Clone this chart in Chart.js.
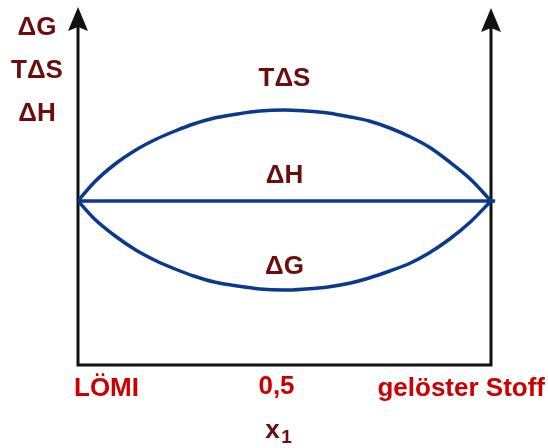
<!DOCTYPE html>
<html>
<head>
<meta charset="utf-8">
<script src="https://cdn.jsdelivr.net/npm/chart.js@4"></script>
<style>
  html, body { margin: 0; padding: 0; background: #fff; }
  #wrap { width: 548px; height: 448px; }
</style>
</head>
<body>
<div id="wrap"><canvas id="gibbsChart"></canvas></div>
<script>
// mole fraction of the solute, 0 = pure solvent (LÖMI), 1 = pure solute
const molFrac = [0, 0.04, 0.09, 0.14, 0.19, 0.235, 0.28, 0.33, 0.385, 0.44, 0.5,
                 0.55, 0.605, 0.66, 0.705, 0.755, 0.805, 0.85, 0.9, 0.95, 1];
// mixing quantities in arbitrary units, enthalpy line as the zero reference
const tdsValues = [0, 19, 37, 51, 62, 70, 77, 83, 87, 90, 91,
                   90, 88, 84, 80, 73, 64, 54, 39, 22, 0];
const dgValues = [0, -18, -35, -49, -60, -68, -75, -81, -85, -88, -89,
                  -88, -86, -82, -77, -70, -62, -52, -38, -21, 0];
const dhX = [0, 1.01];
const dhValues = [0, 0];

const yLabels = ['ΔG', 'TΔS', 'ΔH'];
const xLabels = ['LÖMI', '0,5', 'gelöster Stoff'];

const DARK_RED = '#6b0d0d';
const RED = '#cc0000';
const BLUE = '#0b3a8c';
const FONT = 'bold 26px "Liberation Sans", Arial, sans-serif';

function toPoints(xs, ys) {
    return xs.map((x, i) => ({ x: x, y: ys[i] }));
}

function arrowHead(ctx, x, tipY) {
    ctx.beginPath();
    ctx.moveTo(x, tipY);
    ctx.lineTo(x + 10, tipY + 24);
    ctx.lineTo(x, tipY + 20);
    ctx.lineTo(x - 10, tipY + 24);
    ctx.closePath();
    ctx.fill();
}

// axes, arrows and all the text labels
const sketchPlugin = {
    id: 'sketch',
    beforeDatasetsDraw(chart) {
        const ctx = chart.ctx;
        const xs = chart.scales.x;
        const ys = chart.scales.y;
        const left = xs.getPixelForValue(0);
        const right = xs.getPixelForValue(1);
        const bottom = ys.getPixelForValue(ys.min);
        const top = ys.getPixelForValue(ys.max);

        ctx.save();
        ctx.strokeStyle = '#111';
        ctx.fillStyle = '#111';
        ctx.lineWidth = 3;
        ctx.beginPath();
        ctx.moveTo(left, top + 18);
        ctx.lineTo(left, bottom);
        ctx.lineTo(right, bottom);
        ctx.lineTo(right, top + 18);
        ctx.stroke();
        arrowHead(ctx, left, top);
        arrowHead(ctx, right, top + 1);
        ctx.restore();
    },
    afterDraw(chart) {
        const ctx = chart.ctx;
        const xs = chart.scales.x;
        const ys = chart.scales.y;
        const left = xs.getPixelForValue(0);
        const mid = xs.getPixelForValue(0.5);
        const right = xs.getPixelForValue(1);
        const bottom = ys.getPixelForValue(ys.min);
        const top = ys.getPixelForValue(ys.max);

        ctx.save();
        ctx.font = FONT;
        ctx.textAlign = 'center';
        ctx.textBaseline = 'middle';

        // stacked y-axis title
        ctx.fillStyle = DARK_RED;
        yLabels.forEach((t, i) => {
            ctx.fillText(t, left - 41, top + 21 + i * 43);
        });

        // curve names
        const peak = Math.max(...tdsValues);
        const dip = Math.min(...dgValues);
        ctx.fillText('TΔS', mid, ys.getPixelForValue(peak) - 31);
        ctx.fillText('ΔH', mid, ys.getPixelForValue(0) - 25);
        ctx.fillText('ΔG', mid, ys.getPixelForValue(dip) - 23);

        // x-axis labels
        ctx.fillStyle = RED;
        ctx.textAlign = 'left';
        ctx.fillText(xLabels[0], left - 4, bottom + 24);
        ctx.textAlign = 'center';
        ctx.fillText(xLabels[1], mid - 8, bottom + 22);
        ctx.textAlign = 'right';
        ctx.fillText(xLabels[2], right + 54, bottom + 24);

        // axis variable x1
        ctx.fillStyle = DARK_RED;
        ctx.textAlign = 'center';
        ctx.fillText('x', mid - 12, bottom + 66);
        ctx.font = 'bold 19px "Liberation Sans", Arial, sans-serif';
        ctx.fillText('1', mid + 2, bottom + 73);
        ctx.restore();
    }
};

const lineStyle = {
    borderColor: BLUE,
    borderWidth: 3.5,
    pointRadius: 0,
    fill: false,
    showLine: true
};

new Chart(document.getElementById('gibbsChart'), {
    type: 'scatter',
    data: {
        datasets: [
            Object.assign({ label: 'TΔS', data: toPoints(molFrac, tdsValues), cubicInterpolationMode: 'monotone' }, lineStyle),
            Object.assign({ label: 'ΔH', data: toPoints(dhX, dhValues), tension: 0, clip: false }, lineStyle),
            Object.assign({ label: 'ΔG', data: toPoints(molFrac, dgValues), cubicInterpolationMode: 'monotone' }, lineStyle)
        ]
    },
    options: {
        responsive: true,
        maintainAspectRatio: false,
        animation: false,
        layout: { padding: { left: 78, right: 57, top: 7, bottom: 83 } },
        plugins: {
            legend: { display: false },
            tooltip: { enabled: false }
        },
        scales: {
            x: { type: 'linear', min: 0, max: 1, display: false },
            y: { type: 'linear', min: -164, max: 194, display: false }
        }
    },
    plugins: [sketchPlugin]
});
</script>
</body>
</html>
